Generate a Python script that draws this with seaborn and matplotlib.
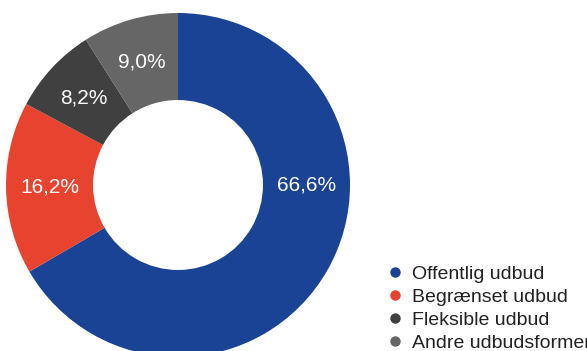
import matplotlib
matplotlib.use("Agg")
import matplotlib.pyplot as plt
from matplotlib.lines import Line2D
import seaborn as sns

# Andel af udbud fordelt på udbudsform
categories = ["Offentlig udbud", "Begrænset udbud", "Fleksible udbud", "Andre udbudsformer"]
shares = [66.6, 16.2, 8.2, 9.0]
colors = ["#1a4396", "#e8432f", "#404040", "#666666"]

sns.set_theme(style="white")
plt.rcParams["font.family"] = ["Liberation Sans", "DejaVu Sans"]

W, H = 587, 351
fig = plt.figure(figsize=(W / 100, H / 100), dpi=100)
fig.patch.set_facecolor("white")

# Donut placed with its outer rim touching the top, running off the bottom
cx, cy, R = 178, 185, 172
ax = fig.add_axes([(cx - R) / W, (H - cy - R) / H, 2 * R / W, 2 * R / H])

ring_width = 0.506
label_r = 1 - ring_width / 2

wedges, _, autotexts = ax.pie(
    shares,
    colors=colors,
    startangle=90,
    counterclock=False,
    radius=1,
    wedgeprops=dict(width=ring_width, linewidth=0),
    autopct=lambda p: f"{p:.1f}".replace(".", ",") + "%",
    pctdistance=label_r,
    textprops=dict(color="white", fontsize=15),
)
# The largest share is labelled on the right side of the ring
autotexts[0].set_position((label_r, 0))
for t in autotexts:
    t.set_va("center")
    t.set_ha("center")

ax.set_xlim(-1, 1)
ax.set_ylim(-1, 1)
ax.set_aspect("equal")
ax.axis("off")

handles = [
    Line2D([], [], linestyle="none", marker="o", markersize=7.5,
           markerfacecolor=c, markeredgewidth=0)
    for c in colors
]
fig.legend(
    handles, categories,
    loc="upper left",
    bbox_to_anchor=(387.7 / W, 1 - 265 / H),
    frameon=False,
    borderpad=0,
    borderaxespad=0,
    handlelength=0.7,
    handletextpad=0.55,
    labelspacing=0.28,
    fontsize=14,
    labelcolor="#222222",
)

fig.savefig("out.png", dpi=100, facecolor="white")
